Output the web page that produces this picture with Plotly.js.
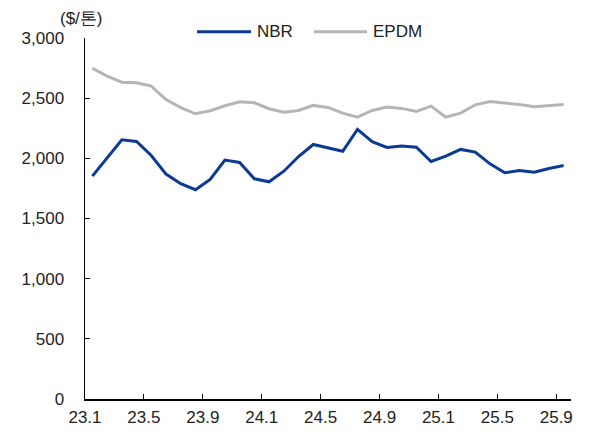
<!DOCTYPE html>
<html>
<head>
<meta charset="utf-8">
<script src="https://cdn.plot.ly/plotly-3.0.1.min.js"></script>
<style>html,body{margin:0;padding:0;background:#fff;}#chart{width:592px;height:437px;}</style>
</head>
<body>
<div id="chart"></div>
<script>
// Monthly periods 23.1 .. 25.9
const months = ['23.1','23.2','23.3','23.4','23.5','23.6','23.7','23.8','23.9','23.10','23.11','23.12',
  '24.1','24.2','24.3','24.4','24.5','24.6','24.7','24.8','24.9','24.10','24.11','24.12',
  '25.1','25.2','25.3','25.4','25.5','25.6','25.7','25.8','25.9'];
const nbr = [1852,2004,2154,2140,2024,1869,1789,1739,1824,1985,1966,1830,
  1805,1893,2015,2115,2088,2059,2240,2138,2091,2103,2093,1974,
  2019,2074,2052,1954,1880,1899,1885,1916,1940];
const epdm = [2749,2683,2633,2628,2600,2489,2421,2370,2396,2437,2470,2462,
  2412,2384,2398,2440,2423,2376,2342,2398,2426,2415,2390,2434,
  2342,2376,2445,2473,2459,2448,2429,2440,2448];
const seriesNames = ['NBR', 'EPDM'];
const seriesColors = ['#0a3a94', '#b5b5b5'];
const tickLabels = ['23.1','23.5','23.9','24.1','24.5','24.9','25.1','25.5','25.9'];
const yTicks = [0,500,1000,1500,2000,2500,3000];
const unitLabel = '($/톤)';

const xIdx = months.map((m, i) => i);
// labels sit on category boundaries, every 4 months
const tickPos = tickLabels.map(l => months.indexOf(l) - 0.5);

const font = {family: 'Liberation Sans, Arial, sans-serif', size: 17, color: '#222'};

const traces = [nbr, epdm].map((vals, k) => ({
  x: xIdx, y: vals, name: seriesNames[k], mode: 'lines',
  line: {color: seriesColors[k], width: 3}, hoverinfo: 'skip', showlegend: false
}));

// legend drawn at top, line sample + label (paper coords)
const legendY = 1.017;
const legendItems = [{x0: 0.2305, x1: 0.3416, tx: 0.3498}, {x0: 0.4712, x1: 0.5802, tx: 0.5885}];
const shapes = legendItems.map((it, k) => ({
  type: 'line', xref: 'paper', yref: 'paper', x0: it.x0, x1: it.x1, y0: legendY, y1: legendY,
  line: {color: seriesColors[k], width: 3}
}));
const annotations = legendItems.map((it, k) => ({
  text: seriesNames[k], xref: 'paper', yref: 'paper', x: it.tx, y: legendY,
  xanchor: 'left', yanchor: 'middle', showarrow: false, font: font
}));
annotations.push({text: unitLabel, xref: 'paper', yref: 'paper', x: 0.042, y: 1.055,
  xanchor: 'right', yanchor: 'middle', showarrow: false, font: font});

const layout = {
  width: 592, height: 437,
  margin: {l: 85, r: 21, t: 38, b: 38, autoexpand: false},
  paper_bgcolor: '#fff', plot_bgcolor: '#fff',
  font: font,
  showlegend: false,
  xaxis: {
    range: [-0.5, months.length - 0.5],
    tickmode: 'array', tickvals: tickPos, ticktext: tickLabels,
    ticks: 'inside', ticklen: 5, tickcolor: '#000', tickwidth: 1,
    showline: true, linecolor: '#000', linewidth: 1.5,
    showgrid: false, zeroline: false,
    ticklabelstandoff: 2,
    fixedrange: true
  },
  yaxis: {
    range: [0, 3000],
    tickmode: 'array', tickvals: yTicks, ticktext: yTicks.map(v => v.toLocaleString('en-US')),
    ticks: 'inside', ticklen: 5, tickcolor: '#000', tickwidth: 1,
    showline: true, linecolor: '#000', linewidth: 1.5,
    showgrid: false, zeroline: false,
    ticklabelstandoff: 16,
    fixedrange: true
  },
  shapes: shapes,
  annotations: annotations
};

Plotly.newPlot('chart', traces, layout, {displayModeBar: false, staticPlot: true});
</script>
</body>
</html>
